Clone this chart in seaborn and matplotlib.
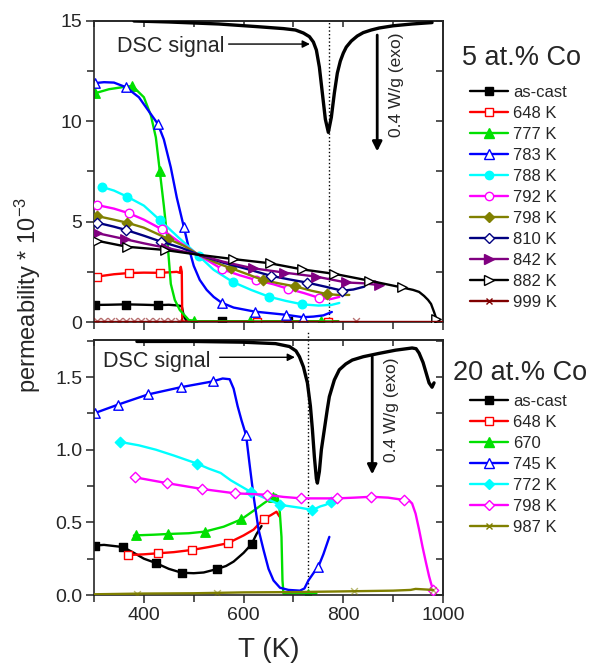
import matplotlib
matplotlib.use("Agg")
import matplotlib.pyplot as plt
from matplotlib.lines import Line2D
from matplotlib.ticker import MultipleLocator, NullFormatter
import seaborn as sns

# ---------------- data: 5 at.% Co (top panel) ----------------
dsc5_T = [380, 450, 550, 626, 680, 704, 720, 732, 740, 746, 752, 758, 764, 770, 776, 782, 788, 794, 800, 806, 816, 828, 840, 856, 872, 900, 938, 978]
dsc5_v = [15.0, 14.95, 14.85, 14.72, 14.62, 14.55, 14.4, 14.22, 13.95, 13.55, 12.7, 11.4, 10.1, 9.45, 10.2, 11.4, 12.4, 13.0, 13.4, 13.7, 14.0, 14.25, 14.42, 14.55, 14.65, 14.76, 14.85, 14.92]

top_labels = ["as-cast", "648 K", "777 K", "783 K", "788 K", "792 K", "798 K", "810 K", "842 K", "882 K", "999 K"]

t_ascast_T = [300, 330, 364, 400, 428, 450, 470, 476, 480, 486, 790]
t_ascast_v = [0.85, 0.86, 0.88, 0.86, 0.84, 0.86, 0.82, 0.78, 0.3, 0.03, 0.03]
t_ascast_mT = [302, 364, 428, 556, 690]
t_ascast_mv = [0.85, 0.87, 0.84, 0.03, 0.03]

t_648_T = [305, 340, 370, 400, 433, 466, 472, 474, 476, 477, 790]
t_648_v = [2.26, 2.38, 2.44, 2.46, 2.45, 2.5, 2.45, 2.75, 2.5, 0.02, 0.02]
t_648_mT = [305, 370, 433, 626, 770]
t_648_mv = [2.26, 2.44, 2.45, 0.02, 0.02]

t_777_T = [302, 330, 362, 377, 400, 414, 424, 432, 440, 446, 454, 462, 472, 490, 510, 790]
t_777_v = [11.4, 11.6, 11.72, 11.76, 11.2, 10.3, 9.2, 7.5, 5.8, 4.4, 1.9, 1.1, 0.6, 0.1, 0.03, 0.03]
t_777_mT = [302, 376, 432, 500, 612, 756]
t_777_mv = [11.4, 11.76, 7.5, 0.05, 0.03, 0.03]

t_783_T = [300, 320, 340, 364, 390, 410, 428, 440, 454, 466, 480, 490, 500, 512, 526, 540, 556, 580, 622, 685, 719, 740, 760, 777]
t_783_v = [11.9, 11.95, 11.93, 11.7, 11.2, 10.5, 9.87, 9.1, 7.7, 6.2, 4.75, 3.7, 2.8, 2.1, 1.6, 1.25, 0.96, 0.72, 0.52, 0.36, 0.24, 0.27, 0.33, 0.5]
t_783_mT = [302, 364, 428, 480, 556, 622, 685, 719]
t_783_mv = [11.9, 11.7, 9.87, 4.75, 0.96, 0.52, 0.36, 0.22]

t_788_T = [316, 340, 366, 400, 432, 470, 510, 540, 578, 615, 651, 685, 718, 750, 776, 792]
t_788_v = [6.73, 6.55, 6.25, 5.8, 5.08, 4.2, 3.3, 2.6, 2.0, 1.6, 1.26, 1.05, 0.88, 0.82, 0.85, 0.95]
t_788_mT = [316, 366, 432, 510, 578, 651, 718]
t_788_mv = [6.73, 6.25, 5.08, 3.3, 2.0, 1.26, 0.88]

t_792_T = [306, 340, 370, 400, 436, 470, 510, 557, 592, 625, 660, 690, 720, 752, 776, 792]
t_792_v = [5.83, 5.65, 5.42, 5.1, 4.62, 4.0, 3.34, 2.63, 2.33, 2.09, 1.88, 1.65, 1.45, 1.2, 1.15, 1.25]
t_792_mT = [306, 370, 436, 557, 625, 690, 752]
t_792_mv = [5.83, 5.42, 4.62, 2.63, 2.09, 1.65, 1.2]

t_798_T = [306, 336, 366, 400, 448, 480, 510, 545, 575, 610, 638, 670, 704, 736, 768, 790, 812]
t_798_v = [5.28, 5.12, 4.95, 4.7, 4.15, 3.8, 3.35, 2.95, 2.68, 2.36, 2.1, 1.93, 1.77, 1.56, 1.39, 1.35, 1.35]
t_798_mT = [306, 366, 448, 575, 638, 704, 768]
t_798_mv = [5.28, 4.95, 4.15, 2.68, 2.1, 1.77, 1.39]

t_810_T = [306, 340, 365, 400, 435, 475, 510, 560, 610, 655, 690, 728, 764, 798, 820, 842]
t_810_v = [4.95, 4.75, 4.58, 4.3, 4.0, 3.7, 3.35, 2.95, 2.62, 2.3, 2.13, 1.96, 1.76, 1.56, 1.62, 1.76]
t_810_mT = [306, 365, 435, 655, 728, 798]
t_810_mv = [4.95, 4.58, 4.0, 2.3, 1.96, 1.56]

t_842_T = [306, 334, 362, 400, 444, 478, 510, 560, 618, 682, 746, 806, 840, 872]
t_842_v = [4.43, 4.28, 4.13, 3.92, 3.7, 3.52, 3.35, 3.0, 2.68, 2.46, 2.26, 1.97, 1.93, 1.84]
t_842_mT = [306, 362, 444, 618, 682, 746, 806, 872]
t_842_mv = [4.43, 4.13, 3.7, 2.68, 2.46, 2.26, 1.97, 1.84]

t_882_T = [306, 366, 442, 510, 578, 652, 718, 782, 852, 918, 940, 952, 962, 970, 976, 982, 986, 990]
t_882_v = [4.05, 3.75, 3.59, 3.35, 3.14, 2.93, 2.62, 2.4, 2.06, 1.72, 1.6, 1.5, 1.3, 1.1, 0.9, 0.5, 0.2, 0.02]
t_882_mT = [306, 366, 442, 578, 652, 718, 782, 852, 918, 985]
t_882_mv = [4.05, 3.75, 3.59, 3.14, 2.93, 2.62, 2.4, 2.06, 1.72, 0.15]

t_999_T = [300, 1000]
t_999_v = [0.02, 0.02]
t_999_mT = [305, 320, 335, 350, 365, 380, 395, 410, 425, 440, 455, 470, 826]
t_999_mv = [0.03, 0.03, 0.03, 0.03, 0.03, 0.03, 0.03, 0.03, 0.03, 0.03, 0.03, 0.03, 0.05]

# ---------------- data: 20 at.% Co (bottom panel) ----------------
dsc20_T = [386, 500, 598, 664, 692, 705, 712, 720, 728, 734, 738, 742, 746, 748, 752, 756, 762, 768, 772, 782, 792, 805, 818, 840, 872, 905, 938, 946, 952, 960, 966, 972, 978, 982]
dsc20_v = [1.745, 1.745, 1.74, 1.73, 1.71, 1.68, 1.64, 1.57, 1.46, 1.30, 1.14, 0.95, 0.80, 0.77, 0.85, 1.0, 1.14, 1.28, 1.365, 1.48, 1.55, 1.59, 1.617, 1.64, 1.663, 1.685, 1.70, 1.695, 1.665, 1.6, 1.53, 1.46, 1.43, 1.46]

bot_labels = ["as-cast", "648 K", "670", "745 K", "772 K", "798 K", "987 K"]

b_ascast_T = [300, 320, 358, 380, 400, 424, 450, 476, 500, 520, 546, 565, 580, 600, 616, 626, 636]
b_ascast_v = [0.34, 0.345, 0.33, 0.29, 0.25, 0.22, 0.18, 0.153, 0.15, 0.155, 0.178, 0.2, 0.23, 0.29, 0.35, 0.42, 0.475]
b_ascast_mT = [302, 358, 424, 476, 546, 616]
b_ascast_mv = [0.337, 0.328, 0.22, 0.153, 0.178, 0.35]

b_648_T = [368, 400, 428, 460, 496, 530, 568, 600, 620, 640, 655, 666, 672]
b_648_v = [0.275, 0.28, 0.287, 0.295, 0.31, 0.33, 0.356, 0.41, 0.45, 0.523, 0.55, 0.573, 0.54]
b_648_mT = [368, 428, 496, 568, 640]
b_648_mv = [0.275, 0.287, 0.31, 0.356, 0.523]

b_670_T = [380, 420, 449, 490, 522, 560, 595, 620, 640, 659, 664, 668, 672, 676, 678, 680, 700, 746]
b_670_v = [0.41, 0.415, 0.42, 0.425, 0.436, 0.47, 0.52, 0.58, 0.63, 0.675, 0.69, 0.68, 0.6, 0.4, 0.1, 0.01, 0.01, 0.01]
b_670_mT = [385, 449, 522, 595, 659, 730]
b_670_mv = [0.413, 0.42, 0.436, 0.52, 0.675, 0.01]

b_745_T = [300, 348, 408, 474, 538, 558, 572, 580, 588, 596, 605, 612, 620, 630, 640, 650, 660, 673, 690, 713, 722, 730, 740, 750, 760, 772]
b_745_v = [1.25, 1.31, 1.38, 1.43, 1.47, 1.49, 1.485, 1.42, 1.30, 1.2, 1.1, 0.9, 0.68, 0.45, 0.31, 0.18, 0.10, 0.05, 0.035, 0.03, 0.045, 0.1, 0.15, 0.195, 0.28, 0.40]
b_745_mT = [302, 348, 408, 474, 538, 605, 750]
b_745_mv = [1.25, 1.31, 1.38, 1.43, 1.47, 1.1, 0.195]

b_772_T = [350, 390, 424, 460, 506, 530, 554, 574, 594, 614, 634, 654, 674, 694, 714, 738, 754, 764, 776]
b_772_v = [1.055, 1.03, 1.0, 0.96, 0.905, 0.87, 0.84, 0.79, 0.75, 0.71, 0.68, 0.65, 0.62, 0.61, 0.6, 0.585, 0.61, 0.62, 0.64]
b_772_mT = [352, 506, 614, 674, 738, 776]
b_772_mv = [1.055, 0.905, 0.71, 0.62, 0.585, 0.64]

b_798_T = [382, 446, 516, 582, 646, 680, 716, 752, 788, 822, 856, 890, 922, 932, 938, 945, 952, 959, 966, 972, 976, 980]
b_798_v = [0.81, 0.77, 0.73, 0.70, 0.69, 0.675, 0.665, 0.665, 0.665, 0.67, 0.676, 0.67, 0.654, 0.65, 0.63, 0.56, 0.45, 0.33, 0.22, 0.13, 0.08, 0.035]
b_798_mT = [382, 446, 516, 582, 646, 716, 788, 856, 922, 980]
b_798_mv = [0.81, 0.77, 0.73, 0.70, 0.69, 0.665, 0.665, 0.676, 0.654, 0.035]

b_987_T = [300, 400, 500, 600, 700, 800, 900, 935, 945, 980]
b_987_v = [0.005, 0.01, 0.012, 0.018, 0.02, 0.025, 0.03, 0.035, 0.042, 0.035]
b_987_mT = [386, 546, 822, 980]
b_987_mv = [0.01, 0.015, 0.028, 0.035]

# ---------------- styles ----------------
BLACK, RED, GREEN, BLUE = "#000000", "#FF0000", "#00E000", "#0000FF"
CYAN, MAGENTA, OLIVE, NAVY = "#00FFFF", "#FF00FF", "#808000", "#000080"
PURPLE, WINE = "#800080", "#800000"

top_series = [
    (t_ascast_T, t_ascast_v, t_ascast_mT, t_ascast_mv, BLACK, "s", True),
    (t_648_T, t_648_v, t_648_mT, t_648_mv, RED, "s", False),
    (t_777_T, t_777_v, t_777_mT, t_777_mv, GREEN, "^", True),
    (t_783_T, t_783_v, t_783_mT, t_783_mv, BLUE, "^", False),
    (t_788_T, t_788_v, t_788_mT, t_788_mv, CYAN, "o", True),
    (t_792_T, t_792_v, t_792_mT, t_792_mv, MAGENTA, "o", False),
    (t_798_T, t_798_v, t_798_mT, t_798_mv, OLIVE, "D", True),
    (t_810_T, t_810_v, t_810_mT, t_810_mv, NAVY, "D", False),
    (t_842_T, t_842_v, t_842_mT, t_842_mv, PURPLE, ">", True),
    (t_882_T, t_882_v, t_882_mT, t_882_mv, BLACK, ">", False),
    (t_999_T, t_999_v, t_999_mT, t_999_mv, WINE, "x", True),
]
bot_series = [
    (b_ascast_T, b_ascast_v, b_ascast_mT, b_ascast_mv, BLACK, "s", True),
    (b_648_T, b_648_v, b_648_mT, b_648_mv, RED, "s", False),
    (b_670_T, b_670_v, b_670_mT, b_670_mv, GREEN, "^", True),
    (b_745_T, b_745_v, b_745_mT, b_745_mv, BLUE, "^", False),
    (b_772_T, b_772_v, b_772_mT, b_772_mv, CYAN, "D", True),
    (b_798_T, b_798_v, b_798_mT, b_798_mv, MAGENTA, "D", False),
    (b_987_T, b_987_v, b_987_mT, b_987_mv, OLIVE, "x", True),
]

sns.set_style("ticks")
plt.rcParams["font.family"] = ["Liberation Sans", "DejaVu Sans"]
plt.rcParams["mathtext.fontset"] = "custom"
plt.rcParams["mathtext.rm"] = "Liberation Sans"
plt.rcParams["mathtext.it"] = "Liberation Sans:italic"
plt.rcParams["axes.linewidth"] = 1.2

fig = plt.figure(figsize=(5.91, 6.66), dpi=100)
ax1 = fig.add_axes([0.1591, 0.5165, 0.5905, 0.452])
ax2 = fig.add_axes([0.1591, 0.1066, 0.5905, 0.3829])

MS = {"s": 38, "^": 46, "o": 38, "D": 28, ">": 46, "x": 24}
LMS = {"s": 6, "^": 6.5, "o": 6, "D": 5.2, ">": 6.5, "x": 5}


def draw_series(ax, series):
    handles = []
    for i, (T, v, mT, mv, c, m, filled) in enumerate(series):
        z = 2 + i * 0.1
        sns.lineplot(x=T, y=v, ax=ax, color=c, lw=1.7, sort=False,
                     estimator=None, zorder=z, legend=False)
        if m == "x":
            sns.scatterplot(x=mT, y=mv, ax=ax, marker="x", s=MS[m],
                            color=c, linewidth=1.0, alpha=0.55, zorder=z + 0.05,
                            legend=False)
            h = Line2D([], [], color=c, lw=1.7, marker="x", markersize=LMS[m],
                       markeredgecolor=c)
        else:
            fc = c if filled else "white"
            sns.scatterplot(x=mT, y=mv, ax=ax, marker=m, s=MS[m],
                            color=fc, edgecolor=c, linewidth=1.0,
                            zorder=z + 0.05, legend=False)
            h = Line2D([], [], color=c, lw=1.7, marker=m, markersize=LMS[m],
                       markerfacecolor=fc, markeredgecolor=c, markeredgewidth=1.0)
        handles.append(h)
    return handles


h_top = draw_series(ax1, top_series)
h_bot = draw_series(ax2, bot_series)

# DSC curves
sns.lineplot(x=dsc5_T, y=dsc5_v, ax=ax1, color="black", lw=2.4, sort=False,
             estimator=None, zorder=5, legend=False)
sns.lineplot(x=dsc20_T, y=dsc20_v, ax=ax2, color="black", lw=2.4, sort=False,
             estimator=None, zorder=5, legend=False)

ax1.axvline(772, color="black", ls=":", lw=1.0, zorder=1)
ax2.axvline(730, color="black", ls=":", lw=1.0, zorder=1, ymax=1.03, clip_on=False)

# axes setup
for ax in (ax1, ax2):
    ax.set_xlim(300, 1000)
    ax.set_xlabel("")
    ax.set_ylabel("")
    ax.xaxis.set_major_locator(MultipleLocator(200))
    ax.xaxis.set_minor_locator(MultipleLocator(100))
    ax.tick_params(which="both", direction="out", top=False, right=False,
                   labelsize=14, width=1.1, pad=3)
    ax.tick_params(which="major", length=5.5)
    ax.tick_params(which="minor", length=5)
    for s in ax.spines.values():
        s.set_visible(True)
        s.set_linewidth(1.2)

ax1.set_ylim(0, 15)
ax1.yaxis.set_minor_locator(MultipleLocator(2.5))
ax1.tick_params(labelbottom=False)
ax1.set_yticks([0, 5, 10, 15])
ax1.set_yticklabels(["0", "5", "10", "15"])

ax2.set_ylim(0, 1.755)
ax2.yaxis.set_minor_locator(MultipleLocator(0.25))
ax2.set_xticks([400, 600, 800, 1000])
ax2.set_xticklabels(["400", "600", "800", "1000"])
ax2.set_yticks([0, 0.5, 1.0, 1.5])
ax2.set_yticklabels(["0.0", "0.5", "1.0", "1.5"])


def mirror(ax, ystep):
    top = ax.secondary_xaxis("top")
    top.xaxis.set_major_locator(MultipleLocator(100))
    top.xaxis.set_major_formatter(NullFormatter())
    top.tick_params(which="both", direction="in", length=4, width=1.1,
                    labeltop=False, labelbottom=False)
    right = ax.secondary_yaxis("right")
    right.yaxis.set_major_locator(MultipleLocator(ystep))
    right.yaxis.set_major_formatter(NullFormatter())
    right.tick_params(which="both", direction="in", length=5, width=1.1,
                      labelright=False, labelleft=False)


mirror(ax1, 2.5)
mirror(ax2, 0.25)

# annotations top
ax1.text(346, 13.47, "DSC signal", fontsize=15.5, ha="left", va="baseline", zorder=6)
ax1.annotate("", xy=(733, 13.85), xytext=(570, 13.85),
             arrowprops=dict(arrowstyle="-|>", color="black", lw=1.0,
                             mutation_scale=11, shrinkA=0, shrinkB=0))
ax1.annotate("", xy=(868, 8.5), xytext=(868, 14.3),
             arrowprops=dict(arrowstyle="-|>", color="black", lw=2.0,
                             mutation_scale=14, shrinkA=0, shrinkB=0))
ax1.text(906, 11.8, "0.4 W/g (exo)", fontsize=12.5, rotation=90,
         ha="center", va="center")

# annotations bottom
ax2.text(318, 1.567, "DSC signal", fontsize=15.5, ha="left", va="baseline", zorder=6)
ax2.annotate("", xy=(703, 1.636), xytext=(552, 1.636),
             arrowprops=dict(arrowstyle="-|>", color="black", lw=1.0,
                             mutation_scale=11, shrinkA=0, shrinkB=0))
ax2.annotate("", xy=(858, 0.83), xytext=(858, 1.64),
             arrowprops=dict(arrowstyle="-|>", color="black", lw=2.0,
                             mutation_scale=14, shrinkA=0, shrinkB=0))
ax2.text(896, 1.273, "0.4 W/g (exo)", fontsize=12.5, rotation=90,
         ha="center", va="center")

# panel titles
fig.text(0.7817, 0.9024, "5 at.% Co", fontsize=19.5, ha="left", va="baseline")
fig.text(0.7665, 0.4294, "20 at.% Co", fontsize=19.5, ha="left", va="baseline")

# legends
leg_kw = dict(frameon=False, prop={"size": 12}, handlelength=2.3,
              handletextpad=0.3, labelspacing=0.36, borderaxespad=0, borderpad=0,
              bbox_transform=fig.transFigure, loc="upper left")
leg1 = ax1.legend(h_top, top_labels, bbox_to_anchor=(0.795, 0.8724), **leg_kw)
leg2 = ax2.legend(h_bot, bot_labels, bbox_to_anchor=(0.795, 0.4084), **leg_kw)

# axis labels
fig.text(0.0465, 0.557, "permeability * 10$^{-3}$", fontsize=17, rotation=90,
         ha="center", va="center")
fig.text(0.455, 0.013, "T (K)", fontsize=20, ha="center", va="baseline")

fig.savefig("out.png", dpi=100)
